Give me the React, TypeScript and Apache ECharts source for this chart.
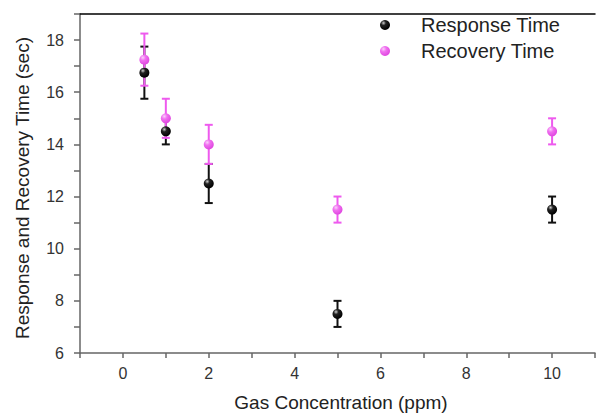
import React, { useEffect, useRef } from "react";
import * as echarts from "echarts";

const concentrations = [0.5, 1, 2, 5, 10];
const responseTime = [16.75, 14.5, 12.5, 7.5, 11.5];
const responseErr = [1.0, 0.5, 0.75, 0.5, 0.5];
const recoveryTime = [17.25, 15.0, 14.0, 11.5, 14.5];
const recoveryErr = [1.0, 0.75, 0.75, 0.5, 0.5];

const BLACK = "#111111";
const MAGENTA = "#ee5aee";

function errorSeries(name: string, values: number[], errs: number[], color: string) {
  return {
    type: "custom",
    name,
    z: 2,
    data: concentrations.map((c, i) => [c, values[i] - errs[i], values[i] + errs[i]]),
    encode: { x: 0, y: [1, 2] },
    renderItem: (_params: any, api: any) => {
      const x = api.value(0);
      const lo = api.coord([x, api.value(1)]);
      const hi = api.coord([x, api.value(2)]);
      const w = 4;
      const style = { stroke: color, lineWidth: 2 };
      return {
        type: "group",
        children: [
          { type: "line", shape: { x1: lo[0], y1: lo[1], x2: hi[0], y2: hi[1] }, style },
          { type: "line", shape: { x1: lo[0] - w, y1: lo[1], x2: lo[0] + w, y2: lo[1] }, style },
          { type: "line", shape: { x1: hi[0] - w, y1: hi[1], x2: hi[0] + w, y2: hi[1] }, style },
        ],
      };
    },
  };
}

export default function App() {
  const ref = useRef<HTMLDivElement>(null);
  useEffect(() => {
    if (!ref.current) return;
    const chart = echarts.init(ref.current, undefined, { renderer: "svg" });
    const blackGrad = new echarts.graphic.RadialGradient(0.35, 0.3, 0.7, [
      { offset: 0, color: "#d0d0d0" },
      { offset: 0.35, color: "#222222" },
      { offset: 1, color: "#000000" },
    ]);
    const magGrad = new echarts.graphic.RadialGradient(0.35, 0.3, 0.7, [
      { offset: 0, color: "#fbd0fb" },
      { offset: 0.4, color: "#f070f0" },
      { offset: 1, color: "#e048e0" },
    ]);
    const font = "Liberation Sans, Arial, sans-serif";
    chart.setOption({
      animation: false,
      backgroundColor: "#ffffff",
      textStyle: { fontFamily: font },
      grid: { left: 80, right: -2, top: 14, bottom: 61 },
      legend: {
        orient: "vertical",
        left: 375,
        top: 10,
        itemWidth: 42,
        itemHeight: 10,
        itemGap: 6,
        data: ["Response Time", "Recovery Time"],
        textStyle: { fontSize: 20, color: "#222", fontFamily: font, padding: [0, 0, 0, 10] },
      },
      xAxis: [
        {
          type: "value",
          min: -1,
          max: 11,
          interval: 1,
          splitLine: { show: false },
          axisLine: { onZero: false, lineStyle: { color: "#666", width: 1.5 } },
          axisTick: { length: 5, lineStyle: { color: "#666", width: 1.5 } },
          axisLabel: {
            margin: 12,
            fontSize: 16,
            color: "#333",
            fontFamily: font,
            formatter: (v: number) => (v % 2 === 0 && v >= 0 && v <= 10 ? String(v) : ""),
          },
        },
        {
          type: "value",
          position: "top",
          min: -1,
          max: 11,
          axisLine: { show: true, onZero: false, lineStyle: { color: "#000", width: 1.5 } },
          axisTick: { show: false },
          axisLabel: { show: false },
          splitLine: { show: false },
        },
      ],
      yAxis: {
        type: "value",
        min: 6,
        max: 19,
        interval: 1,
        splitLine: { show: false },
        axisLine: { show: true, onZero: false, lineStyle: { color: "#666", width: 1.5 } },
        axisTick: { show: true, length: 6, lineStyle: { color: "#666", width: 1.5 } },
        axisLabel: {
          margin: 16,
          fontSize: 16,
          color: "#333",
          fontFamily: font,
          formatter: (v: number) => (v % 2 === 0 ? String(v) : ""),
        },
      },
      graphic: [
        {
          type: "text",
          x: 22,
          y: 188,
          rotation: Math.PI / 2,
          style: {
            text: "Response and Recovery Time (sec)",
            fontSize: 19,
            fontFamily: font,
            fill: "#222",
            align: "center",
            verticalAlign: "middle",
          },
        },
        {
          type: "text",
          x: 341,
          y: 402,
          style: {
            text: "Gas Concentration (ppm)",
            fontSize: 19,
            fontFamily: font,
            fill: "#222",
            align: "center",
            verticalAlign: "middle",
          },
        },
      ],
      series: [
        errorSeries("Response Error", responseTime, responseErr, BLACK),
        {
          type: "scatter",
          name: "Response Time",
          z: 3,
          symbol: "circle",
          symbolSize: 10,
          itemStyle: { color: blackGrad, opacity: 1 },
          data: concentrations.map((c, i) => [c, responseTime[i]]),
        },
        errorSeries("Recovery Error", recoveryTime, recoveryErr, MAGENTA),
        {
          type: "scatter",
          name: "Recovery Time",
          z: 4,
          symbol: "circle",
          symbolSize: 10,
          itemStyle: { color: magGrad, opacity: 1 },
          data: concentrations.map((c, i) => [c, recoveryTime[i]]),
        },
      ],
    });
    return () => chart.dispose();
  }, []);
  return (
    <div
      ref={ref}
      style={{ position: "absolute", left: 0, top: 0, width: 598, height: 414 }}
    />
  );
}
